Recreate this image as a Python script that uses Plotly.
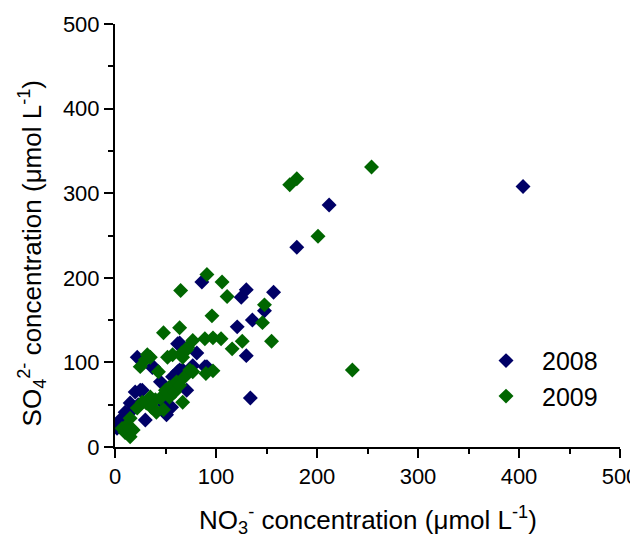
import plotly.graph_objects as go

# 2008 series (NO3-, SO4 2-) in umol/L
x2008 = [2, 5, 8, 10, 12, 15, 18, 20, 23, 25, 27, 30, 22, 37, 38, 45, 49, 51, 56, 57,
         62, 62, 64, 64, 67, 71, 74, 77, 81, 86, 89, 91, 121, 125, 130, 130, 134, 136,
         148, 157, 180, 212, 404]
y2008 = [22, 32, 28, 41, 35, 52, 45, 65, 50, 67, 67, 32, 106, 94, 95, 77, 50, 38, 47, 83,
         122, 89, 91, 123, 91, 67, 92, 96, 111, 195, 95, 95, 142, 177, 186, 108, 58, 150,
         161, 183, 236, 286, 308]

# 2009 series
x2009 = [7, 10, 12, 15, 15, 18, 22, 27, 31, 35, 36, 25, 30, 32, 35, 43, 40, 37, 41, 45,
         48, 48, 50, 52, 54, 54, 57, 59, 61, 64, 64, 65, 66, 67, 67, 69, 71, 72, 74, 77,
         77, 89, 90, 91, 96, 97, 97, 105, 106, 111, 116, 126, 146, 148, 155, 173, 180,
         201, 235, 254]
y2009 = [22, 17, 26, 12, 34, 20, 46, 53, 52, 59, 47, 95, 103, 109, 106, 89, 56, 47, 41, 58,
         44, 135, 67, 106, 71, 59, 109, 65, 77, 73, 141, 185, 111, 106, 53, 83, 115, 118,
         91, 126, 89, 128, 87, 204, 155, 90, 129, 128, 195, 178, 116, 125, 147, 168, 125,
         310, 317, 249, 91, 331]

x_ticks = [0, 100, 200, 300, 400, 500]
y_ticks = [0, 100, 200, 300, 400, 500]

BLUE = "#000066"
GREEN = "#006600"
FONT = "Arial, Liberation Sans, sans-serif"

fig = go.Figure()
fig.add_trace(go.Scatter(x=x2008, y=y2008, mode="markers", name="2008",
                         marker=dict(symbol="diamond", size=11.5, color=BLUE,
                                     line=dict(width=0))))
fig.add_trace(go.Scatter(x=x2009, y=y2009, mode="markers", name="2009",
                         marker=dict(symbol="diamond", size=11.5, color=GREEN,
                                     line=dict(width=0))))

axis_common = dict(
    range=[0, 500], showgrid=False, zeroline=False, automargin=False,
    showline=True, linecolor="black", linewidth=2,
    ticks="outside", ticklen=9, tickwidth=2, tickcolor="black",
    tickfont=dict(family=FONT, size=22, color="black"),
    minor=dict(ticks="outside", ticklen=5, tickwidth=2, tickcolor="black", dtick=50),
)

fig.update_xaxes(tickvals=x_ticks, **axis_common)
fig.update_yaxes(tickvals=y_ticks, **axis_common)

fig.update_layout(
    width=638, height=538,
    margin=dict(l=107, r=26, t=16, b=99),
    plot_bgcolor="white", paper_bgcolor="white",
    font=dict(family=FONT, color="black"),
    showlegend=True,
    legend=dict(x=0.703, y=0.258, xanchor="left", yanchor="top",
                itemwidth=62,
                font=dict(family=FONT, size=25, color="black"),
                bgcolor="rgba(0,0,0,0)"),
    annotations=[
        dict(text="NO<sub>3</sub><sup>-</sup> concentration (μmol L<sup>-1</sup>)",
             xref="paper", yref="paper", x=0.5, y=-0.173, xanchor="center", yanchor="middle",
             showarrow=False, font=dict(family=FONT, size=26, color="black")),
        dict(text="SO<sub>4</sub><sup>2-</sup> concentration (μmol L<sup>-1</sup>)",
             xref="paper", yref="paper", x=-0.164, y=0.458, xanchor="center", yanchor="middle",
             textangle=-90, showarrow=False, font=dict(family=FONT, size=26, color="black")),
    ],
)

fig.write_html("out.html")
